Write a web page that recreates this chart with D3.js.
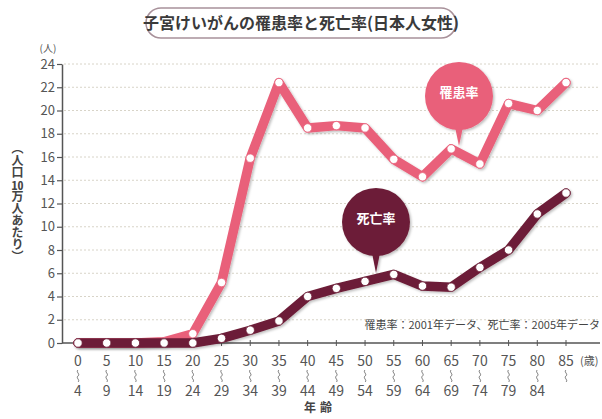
<!DOCTYPE html>
<html lang="ja">
<head>
  <meta charset="UTF-8">
  <title>子宮けいがんの罹患率と死亡率</title>
  <script src="https://cdn.jsdelivr.net/npm/d3@7"></script>
  <style>
    body { margin: 0; background: #fff; position: relative; }
    svg { display: block; }
    text { font-family: "Noto Sans CJK JP", "Noto Sans", sans-serif; }
    .vlabel {
      position: absolute;
      writing-mode: vertical-rl;
      font-family: "Noto Sans CJK JP", sans-serif;
      font-size: 12px;
      font-weight: bold;
      color: #444;
      line-height: 1;
    }
    .vlabel .tcy { text-combine-upright: all; }
  </style>
</head>
<body>
  <svg width="602" height="419"></svg>
  <script>
    // age groups (start / end of each band)
    var ageFrom = ['0','5','10','15','20','25','30','35','40','45','50','55','60','65','70','75','80','85'];
    var ageTo   = ['4','9','14','19','24','29','34','39','44','49','54','59','64','69','74','79','84',''];
    // per 100,000 women
    var incidence = [0, 0, 0, 0.1, 0.8, 5.2, 15.9, 22.4, 18.5, 18.7, 18.5, 15.8, 14.3, 16.7, 15.4, 20.6, 20.0, 22.4];
    var mortality = [0, 0, 0, 0, 0, 0.4, 1.1, 1.9, 4.0, 4.7, 5.3, 5.9, 4.9, 4.8, 6.5, 8.0, 11.1, 12.9];
    var yTicks = [0, 2, 4, 6, 8, 10, 12, 14, 16, 18, 20, 22, 24];

    var pink = '#e9607a';
    var maroon = '#6c1e37';

    var svg = d3.select('svg');

    var defs = svg.append('defs');
    var f = defs.append('filter').attr('id', 'shadow')
      .attr('x', '-10%').attr('y', '-10%').attr('width', '130%').attr('height', '130%');
    f.append('feDropShadow').attr('dx', 1.5).attr('dy', 1.5).attr('stdDeviation', 1.2)
      .attr('flood-color', '#000').attr('flood-opacity', 0.25);

    var x = d3.scalePoint().domain(ageFrom).range([78, 566]);
    var y = d3.scaleLinear().domain([0, 24]).range([343, 64]);

    // title
    var title = svg.append('g');
    title.append('rect')
      .attr('x', 146).attr('y', 8).attr('width', 310).attr('height', 30).attr('rx', 15)
      .attr('fill', '#fff').attr('stroke', '#a8919a').attr('stroke-width', 1.5);
    title.append('text')
      .attr('x', 301).attr('y', 29).attr('text-anchor', 'middle')
      .attr('font-size', 16).attr('font-weight', 'bold').attr('fill', '#3a3a3a')
      .text('子宮けいがんの罹患率と死亡率(日本人女性)');

    // grid
    svg.append('g').selectAll('line').data(yTicks.slice(1)).enter().append('line')
      .attr('x1', 64).attr('x2', 598)
      .attr('y1', function(d) { return y(d); }).attr('y2', function(d) { return y(d); })
      .attr('stroke', '#d8d4c8').attr('stroke-width', 1).attr('stroke-dasharray', '2,2');

    // y axis
    var yAxis = svg.append('g')
      .attr('transform', 'translate(62,0)')
      .call(d3.axisLeft(y).tickValues(yTicks).tickSize(5).tickSizeOuter(0));
    yAxis.select('.domain').attr('stroke', '#555').attr('stroke-width', 1.5);
    yAxis.selectAll('.tick line').attr('stroke', '#555').attr('stroke-width', 1.2);
    yAxis.selectAll('.tick text').attr('font-size', 13).attr('fill', '#555')
      .attr('font-family', '"Liberation Sans", sans-serif').attr('x', -7);

    svg.append('text').attr('x', 48).attr('y', 52).attr('text-anchor', 'middle')
      .attr('font-size', 10).attr('fill', '#555').text('(人)');

    // vertical unit label (HTML so "10" can stay upright)
    var vl = d3.select('body').append('div').attr('class', 'vlabel')
      .style('left', '11px').style('top', '142px');
    vl.append('span').text('（人口');
    vl.append('span').attr('class', 'tcy').text('10');
    vl.append('span').text('万人あたり）');

    // x axis
    var xAxis = svg.append('g')
      .attr('transform', 'translate(0,' + y(0) + ')');
    xAxis.append('line').attr('x1', 62).attr('x2', 600).attr('y1', 0).attr('y2', 0)
      .attr('stroke', '#555').attr('stroke-width', 1.5);
    var xt = xAxis.selectAll('.xtick').data(ageFrom).enter().append('g')
      .attr('class', 'xtick')
      .attr('transform', function(d) { return 'translate(' + x(d) + ',0)'; });
    xt.append('line').attr('y1', -3).attr('y2', 3).attr('stroke', '#555');
    xt.append('text').attr('y', 23).attr('text-anchor', 'middle')
      .attr('font-size', 14).attr('fill', '#555').attr('font-family', '"Liberation Sans", sans-serif')
      .text(function(d) { return d; });
    // small vertical wave "〜" between the two ages
    xt.append('path')
      .attr('d', 'M0,27 C-2.5,29 2.5,31 0,33 C-2.5,35 2.5,37 0,39')
      .attr('fill', 'none').attr('stroke', '#666').attr('stroke-width', 0.9);
    xt.append('text').attr('y', 53).attr('text-anchor', 'middle')
      .attr('font-size', 14).attr('fill', '#555').attr('font-family', '"Liberation Sans", sans-serif')
      .text(function(d, i) { return ageTo[i]; });
    svg.append('text').attr('x', x('85') + 14).attr('y', y(0) + 22)
      .attr('font-size', 11).attr('fill', '#555').text('(歳)');
    svg.append('text').attr('x', 320).attr('y', 412).attr('text-anchor', 'middle')
      .attr('font-size', 12).attr('font-weight', 'bold').attr('fill', '#444')
      .attr('letter-spacing', 4).text('年齢');

    // note
    svg.append('text').attr('x', 600).attr('y', 329).attr('text-anchor', 'end')
      .attr('font-size', 11).attr('fill', '#444')
      .text('罹患率：2001年データ、死亡率：2005年データ');

    // series
    var line = d3.line()
      .x(function(d, i) { return x(ageFrom[i]); })
      .y(function(d) { return y(d); });

    function drawSeries(values, color) {
      var g = svg.append('g');
      g.append('path').datum(values)
        .attr('d', line)
        .attr('fill', 'none').attr('stroke', color).attr('stroke-width', 9.5)
        .attr('stroke-linejoin', 'round').attr('stroke-linecap', 'round')
        .attr('filter', 'url(#shadow)');
      g.selectAll('circle').data(values).enter().append('circle')
        .attr('cx', function(d, i) { return x(ageFrom[i]); })
        .attr('cy', function(d) { return y(d); })
        .attr('r', 4.2)
        .attr('fill', '#fff').attr('stroke', color).attr('stroke-width', 0.8);
    }
    drawSeries(incidence, pink);
    drawSeries(mortality, maroon);

    // bubble labels
    function bubble(cx, cy, tipY, color, label) {
      var r = 34;
      var g = svg.append('g').attr('filter', 'url(#shadow)');
      g.append('path')
        .attr('d', 'M' + (cx - 4) + ',' + (cy + r - 3) + 'L' + cx + ',' + tipY + 'L' + (cx + 4) + ',' + (cy + r - 3) + 'Z')
        .attr('fill', color);
      g.append('circle').attr('cx', cx).attr('cy', cy).attr('r', r).attr('fill', color);
      svg.append('text').attr('x', cx).attr('y', cy + 1).attr('text-anchor', 'middle')
        .attr('font-size', 13).attr('font-weight', 'bold').attr('fill', '#fff').text(label);
    }
    bubble(459, 96, 146, pink, '罹患率');
    bubble(376, 222, 273, maroon, '死亡率');
  </script>
</body>
</html>
